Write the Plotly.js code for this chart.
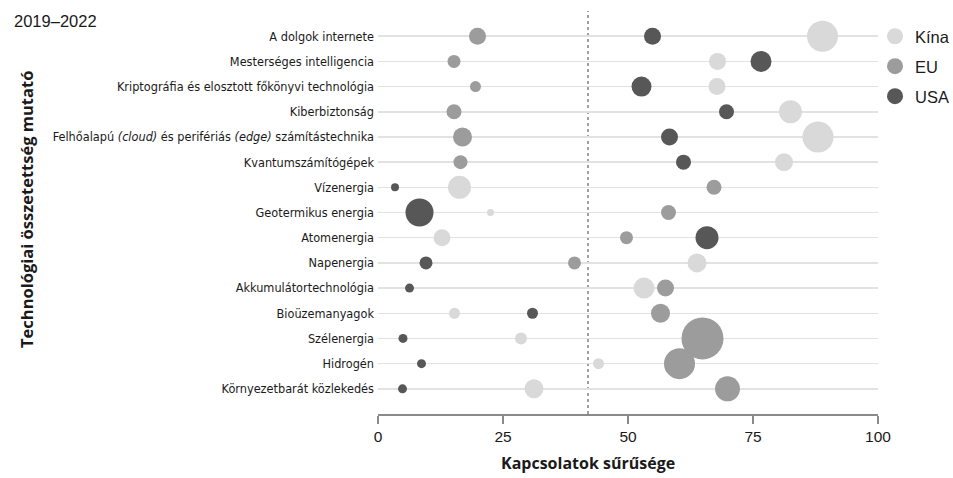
<!DOCTYPE html>
<html>
<head>
<meta charset="utf-8">
<script src="https://cdn.plot.ly/plotly-3.0.1.min.js"></script>
<style>html,body{margin:0;padding:0;background:#fff}#chart{width:953px;height:478px}</style>
</head>
<body>
<div id="chart"></div>
<script>
const categories = [
  "A dolgok internete",
  "Mesterséges intelligencia",
  "Kriptográfia és elosztott főkönyvi technológia",
  "Kiberbiztonság",
  "Felhőalapú <i>(cloud)</i> és perifériás <i>(edge)</i> számítástechnika",
  "Kvantumszámítógépek",
  "Vízenergia",
  "Geotermikus energia",
  "Atomenergia",
  "Napenergia",
  "Akkumulátortechnológia",
  "Bioüzemanyagok",
  "Szélenergia",
  "Hidrogén",
  "Környezetbarát közlekedés"
];
const chinaDensity = [88.9, 67.9, 67.8, 82.5, 88.0, 81.2, 16.3, 22.5, 12.8, 63.8, 53.2, 15.3, 28.6, 44.1, 31.2];
const chinaWeight  = [31, 17, 17, 23, 31, 18, 23, 7, 17, 19, 21, 11, 12, 11, 19];
const euDensity    = [19.9, 15.2, 19.5, 15.2, 16.9, 16.5, 67.2, 58.1, 49.7, 39.3, 57.5, 56.5, 64.9, 60.3, 69.9];
const euWeight     = [17, 13, 11, 15, 19, 14, 15, 15, 13, 13, 17, 19, 42, 31, 25];
const usaDensity   = [54.9, 76.6, 52.7, 69.7, 58.3, 61.1, 3.4, 8.3, 65.8, 9.6, 6.3, 30.9, 5.0, 8.7, 4.9];
const usaWeight    = [17, 21, 20, 15, 17, 15, 8, 28, 23, 13, 9, 11, 9, 9, 9];
const threshold = 42;
const seriesNames = ["Kína", "EU", "USA"];
const xTicks = [0, 25, 50, 75, 100];

const colors = ["#d9d9d9", "#9c9c9c", "#575757"];
const xs = [chinaDensity, euDensity, usaDensity];
const ws = [chinaWeight, euWeight, usaWeight];

const traces = [];
for (let i = 0; i < 3; i++) {
  traces.push({
    type: "scatter", mode: "markers",
    x: xs[i], y: categories,
    name: seriesNames[i],
    showlegend: false,
    marker: {color: colors[i], size: ws[i], sizemode: "diameter", sizeref: 1, line: {width: 0}, opacity: 1},
    hoverinfo: "x+y+name"
  });
}
for (let i = 0; i < 3; i++) {
  traces.push({
    type: "scatter", mode: "markers",
    x: [null], y: [null],
    name: seriesNames[i],
    legendgroup: "g" + i,
    showlegend: true,
    marker: {color: colors[i], size: 17, line: {width: 0}}
  });
}

const PW = 500, PH = 403;
const layout = {
  width: 953, height: 478,
  margin: {l: 378, r: 75, t: 11, b: 64, autoexpand: false},
  paper_bgcolor: "#fff", plot_bgcolor: "#fff",
  font: {family: "DejaVu Sans Condensed, sans-serif", color: "#1a1a1a", size: 14},
  xaxis: {
    range: [0, 100], tickvals: xTicks, ticktext: xTicks.map(String),
    showgrid: false, zeroline: false,
    showline: true, linecolor: "#8a8a8a", linewidth: 1.5,
    ticks: "outside", ticklen: 8, tickcolor: "#8a8a8a", tickwidth: 1.5,
    tickfont: {size: 15.5, family: "Liberation Sans, sans-serif", color: "#1a1a1a"}
  },
  yaxis: {
    type: "category", categoryorder: "array", categoryarray: categories,
    range: [15, -1],
    showgrid: true, gridcolor: "#e2e2e2", gridwidth: 1.5,
    zeroline: false, showline: false, ticks: "", ticklabelstandoff: 3,
    tickfont: {size: 12.6, family: "DejaVu Sans Condensed, sans-serif", color: "#1a1a1a"}
  },
  legend: {
    x: 0.994, y: 1 - 8 / PH, xanchor: "left", yanchor: "top",
    font: {size: 16.5, family: "Liberation Sans, sans-serif", color: "#1a1a1a"},
    itemsizing: "trace", bgcolor: "rgba(0,0,0,0)", tracegroupgap: 5.5
  },
  shapes: [{
    type: "line", xref: "x", yref: "paper", x0: threshold, x1: threshold, y0: 0, y1: 1,
    line: {color: "#808080", width: 1.5, dash: "dot"}, layer: "below"
  }],
  annotations: [
    {text: "2019–2022", xref: "paper", yref: "paper", x: -366 / PW, y: 1 - 10 / PH, xanchor: "left", yanchor: "middle",
     showarrow: false, font: {size: 16.5, family: "Liberation Sans, sans-serif", color: "#1a1a1a"}},
    {text: "<b>Technológiai összetettség mutató</b>", xref: "paper", yref: "paper", x: -352 / PW, y: 1 - 199 / PH,
     xanchor: "center", yanchor: "middle", textangle: -90, showarrow: false,
     font: {size: 16.5, family: "Open Sans, sans-serif", color: "#1a1a1a"}},
    {text: "<b>Kapcsolatok sűrűsége</b>", xref: "paper", yref: "paper", x: (588 - 378) / PW, y: -49 / PH,
     xanchor: "center", yanchor: "middle", showarrow: false,
     font: {size: 16, family: "Open Sans, sans-serif", color: "#1a1a1a"}}
  ]
};

Plotly.newPlot("chart", traces, layout, {displayModeBar: false, staticPlot: true});
</script>
</body>
</html>
